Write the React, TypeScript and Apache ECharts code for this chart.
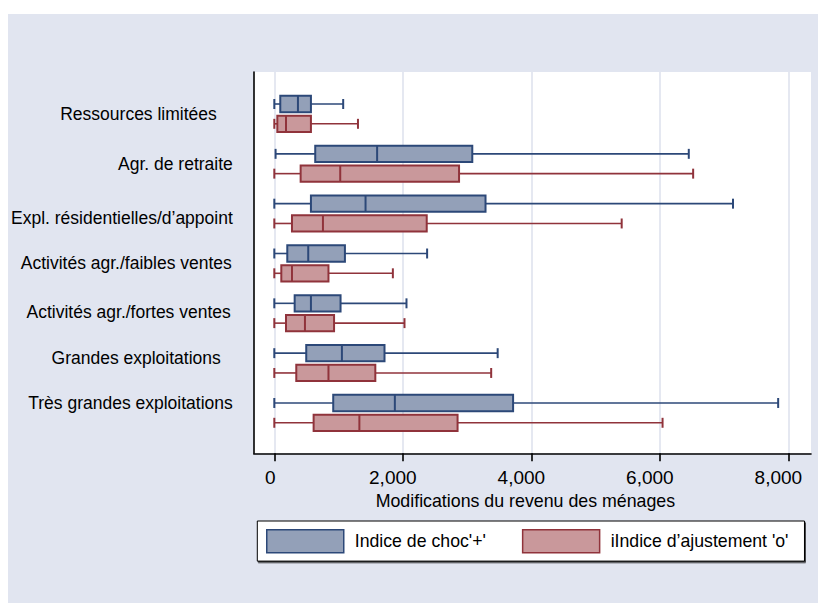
import React, { useEffect, useRef } from 'react';
import * as echarts from 'echarts';

const categories = [
  'Ressources limitées',
  'Agr. de retraite',
  'Expl. résidentielles/d’appoint',
  'Activités agr./faibles ventes',
  'Activités agr./fortes ventes',
  'Grandes exploitations',
  'Très grandes exploitations',
];

// Box statistics per category: [min, Q1, median, Q3, max]
const chocStats = [
  [0, 93, 368, 570, 1072],
  [20, 637, 1600, 3081, 6450],
  [0, 570, 1420, 3287, 7138],
  [0, 202, 528, 1099, 2378],
  [0, 317, 570, 1031, 2057],
  [0, 497, 1052, 1715, 3476],
  [0, 917, 1876, 3716, 7841],
];

const ajustStats = [
  [0, 47, 182, 570, 1302],
  [0, 410, 1026, 2875, 6518],
  [0, 275, 757, 2372, 5406],
  [0, 109, 275, 843, 1845],
  [0, 182, 477, 930, 2026],
  [0, 342, 843, 1572, 3375],
  [0, 612, 1324, 2852, 6042],
];

const xTicks = [0, 2000, 4000, 6000, 8000];
const seriesNames = ["Indice de choc'+'", "iIndice d’ajustement 'o'"];
const xTitle = 'Modifications du revenu des ménages';

const FONT = '"Liberation Sans", Arial, sans-serif';
const BLUE_FILL = '#93a0b8';
const BLUE_LINE = '#2c4878';
const RED_FILL = '#c9989b';
const RED_LINE = '#90333b';

// per-label nudges for the category labels: [shift down px, extra right pad px]
const labelNudges = [
  [0, 16],
  [0, 0],
  [4, 0],
  [0, 1],
  [-1, 2],
  [-5, 12],
  [-9.5, 0],
];

const makeRender = (offset: number, fill: string, stroke: string) =>
  (_params: any, api: any) => {
    const idx = api.value(0);
    const lo = api.value(1);
    const q1 = api.value(2);
    const md = api.value(3);
    const q3 = api.value(4);
    const hi = api.value(5);
    const band = Math.abs(api.size([0, 1])[1]);
    const yc = api.coord([0, idx])[1] + offset * band;
    const h = band * 0.327;
    const cap = band * 0.2;
    const x = (v: number) => api.coord([v, idx])[0];
    const lineStyle = { stroke, lineWidth: 1.6 };
    return {
      type: 'group',
      children: [
        { type: 'line', shape: { x1: x(lo), y1: yc, x2: x(q1), y2: yc }, style: lineStyle },
        { type: 'line', shape: { x1: x(q3), y1: yc, x2: x(hi), y2: yc }, style: lineStyle },
        { type: 'line', shape: { x1: x(lo), y1: yc - cap / 2, x2: x(lo), y2: yc + cap / 2 }, style: { stroke, lineWidth: 2 } },
        { type: 'line', shape: { x1: x(hi), y1: yc - cap / 2, x2: x(hi), y2: yc + cap / 2 }, style: { stroke, lineWidth: 2 } },
        {
          type: 'rect',
          shape: { x: x(q1), y: yc - h / 2, width: x(q3) - x(q1), height: h },
          style: { fill, stroke, lineWidth: 2 },
        },
        { type: 'line', shape: { x1: x(md), y1: yc - h / 2, x2: x(md), y2: yc + h / 2 }, style: { stroke, lineWidth: 2 } },
      ],
    };
  };

const toRows = (stats: number[][]) => stats.map((s, i) => [i, ...s]);

const yRich: Record<string, any> = {};
labelNudges.forEach(([dy, pr], i) => {
  yRich['c' + i] = {
    fontFamily: FONT,
    fontSize: 17.5,
    color: '#000',
    padding: [dy > 0 ? 2 * dy : 0, pr, dy < 0 ? -2 * dy : 0, 0],
  };
});

export default function App() {
  const ref = useRef<HTMLDivElement>(null);

  useEffect(() => {
    if (!ref.current) return;
    const chart = echarts.init(ref.current, undefined, { renderer: 'svg' });
    chart.setOption({
      animation: false,
      backgroundColor: 'transparent',
      textStyle: { fontFamily: FONT },
      grid: {
        left: 243.7,
        top: 58,
        width: 559.3,
        height: 381.3,
        show: true,
        backgroundColor: '#ffffff',
        borderWidth: 0,
      },
      xAxis: {
        type: 'value',
        min: -319,
        max: 8352,
        name: xTitle,
        nameLocation: 'middle',
        nameGap: 34,
        nameTextStyle: { fontFamily: FONT, fontSize: 17.8, color: '#000', padding: [0, 14, 0, 0] },
        axisLine: { show: true, onZero: false, lineStyle: { color: '#000', width: 1.6 } },
        axisTick: { show: true, customValues: xTicks, length: 8, lineStyle: { color: '#000', width: 1.6 } },
        axisLabel: {
          customValues: xTicks,
          margin: 15,
          formatter: (v: number) =>
            v === 0 ? '{z|0}' : '{k|' + v.toLocaleString('en-US') + '}',
          rich: {
            z: { fontFamily: FONT, fontSize: 19, color: '#000', padding: [0, 8, 0, 0] },
            k: { fontFamily: FONT, fontSize: 19, color: '#000', padding: [0, 20, 0, 0] },
          },
        },
        splitLine: { show: true, lineStyle: { color: '#dfe3ee', width: 1.6 } },
      },
      yAxis: {
        type: 'value',
        inverse: true,
        min: -0.841,
        max: 6.811,
        axisLine: { show: true, onZero: false, lineStyle: { color: '#000', width: 1.6 } },
        axisTick: { show: false },
        splitLine: { show: false },
        axisLabel: {
          customValues: categories.map((_, i) => i),
          margin: 21,
          formatter: (v: number) => '{c' + v + '|' + categories[v] + '}',
          rich: yRich,
        },
      },
      legend: {
        left: 249.3,
        top: 507,
        orient: 'horizontal',
        itemWidth: 77,
        itemHeight: 23,
        itemGap: 36,
        padding: [8, 16, 7.6, 8.7],
        backgroundColor: '#ffffff',
        borderColor: '#000',
        borderWidth: 1,
        borderRadius: 0,
        shadowColor: 'rgba(0,0,0,0.7)',
        shadowOffsetX: 1,
        shadowOffsetY: 1.5,
        shadowBlur: 0,
        textStyle: { fontFamily: FONT, fontSize: 17.7, color: '#000', padding: [0, 0, 0, 6] },
        data: [
          { name: seriesNames[0], icon: 'rect', itemStyle: { color: BLUE_FILL, borderColor: BLUE_LINE, borderWidth: 1.5 } },
          { name: seriesNames[1], icon: 'rect', itemStyle: { color: RED_FILL, borderColor: RED_LINE, borderWidth: 1.5 } },
        ],
      },
      series: [
        {
          name: seriesNames[0],
          type: 'custom',
          renderItem: makeRender(-0.1987, BLUE_FILL, BLUE_LINE),
          encode: { x: [1, 2, 3, 4, 5], y: 0 },
          itemStyle: { color: BLUE_FILL, borderColor: BLUE_LINE },
          data: toRows(chocStats),
          clip: false,
        },
        {
          name: seriesNames[1],
          type: 'custom',
          renderItem: makeRender(0.1987, RED_FILL, RED_LINE),
          encode: { x: [1, 2, 3, 4, 5], y: 0 },
          itemStyle: { color: RED_FILL, borderColor: RED_LINE },
          data: toRows(ajustStats),
          clip: false,
        },
      ],
    });
    return () => chart.dispose();
  }, []);

  return (
    <div
      ref={ref}
      style={{
        position: 'absolute',
        left: 8,
        top: 14,
        width: 810,
        height: 589,
        backgroundColor: '#e1e5f0',
      }}
    />
  );
}
